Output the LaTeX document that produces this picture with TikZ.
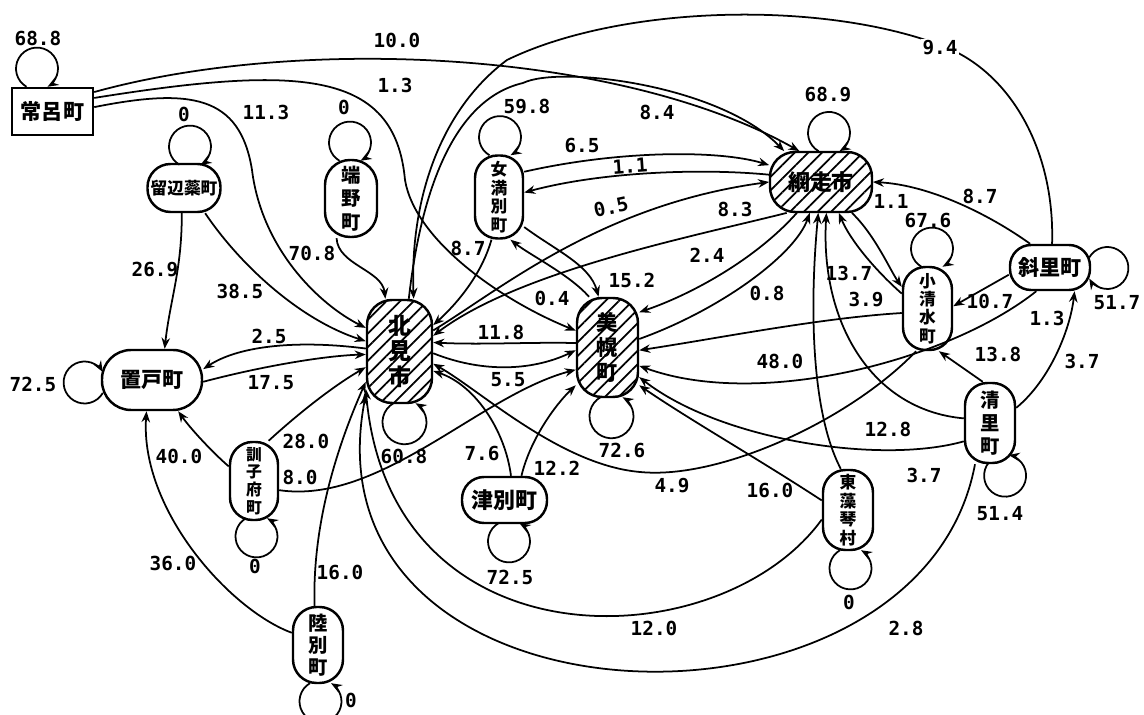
\documentclass[tikz,border=0pt]{standalone}
\usepackage{fontspec}
\newfontfamily\jp{Noto Sans CJK JP}
\newfontfamily\kazuf{DejaVu Sans Mono}
\usetikzlibrary{arrows.meta,patterns.meta,calc}
\tikzset{
  machi/.style={draw, line width=1.4pt, fill=white, inner sep=0pt, align=center},
  yoko/.style={machi, font=\jp\bfseries\fontsize{12}{12}\selectfont},
  tate/.style={machi, font=\jp\bfseries\fontsize{10}{11.5}\selectfont},
  shi/.style={pattern={Lines[angle=45,distance=5.5pt,line width=1pt]}},
  ya/.style={-{Stealth[length=2.2mm,width=1.7mm]}, line width=1pt},
  kazu/.style={font=\kazuf\bfseries\fontsize{11}{11}\selectfont, inner sep=1pt}
}
\begin{document}
\begin{tikzpicture}[x=0.02cm,y=-0.02cm]
\useasboundingbox[fill=white] (0,0) rectangle (1144,715);

% machi
\node[yoko, minimum width=1.62cm, minimum height=0.94cm] (tokoro) at (52.5,111.5) {常呂町};
\node[yoko, minimum width=1.46cm, minimum height=0.96cm, rounded corners=0.46cm,
      font=\jp\bfseries\fontsize{9.5}{10}\selectfont] (rubeshibe) at (184,188) {留辺蘂町};
\node[tate, minimum width=1.04cm, minimum height=1.54cm, rounded corners=0.5cm,
      font=\jp\bfseries\fontsize{11}{13.5}\selectfont] (tanno) at (351,198.5) {端\\野\\町};
\node[tate, minimum width=0.96cm, minimum height=1.66cm, rounded corners=0.45cm,
      font=\jp\bfseries\fontsize{9.5}{10.5}\selectfont] (memanbetsu) at (499,197) {女\\満\\別\\町};
\node[yoko, shi, minimum width=2.04cm, minimum height=1.2cm, rounded corners=0.5cm,
      font=\jp\bfseries\fontsize{12.5}{12.5}\selectfont] (abashiri) at (821,182) {網走市};
\node[yoko, minimum width=1.6cm, minimum height=0.9cm, rounded corners=0.42cm] (shari) at (1050,267.5) {斜里町};
\node[tate, minimum width=0.98cm, minimum height=1.66cm, rounded corners=0.45cm,
      font=\jp\bfseries\fontsize{9.5}{10.5}\selectfont] (koshimizu) at (927.5,308.5) {小\\清\\水\\町};
\node[tate, minimum width=1cm, minimum height=1.6cm, rounded corners=0.45cm,
      font=\jp\bfseries\fontsize{11}{13}\selectfont] (kiyosato) at (990,423) {清\\里\\町};
\node[tate, minimum width=1cm, minimum height=1.6cm, rounded corners=0.45cm,
      font=\jp\bfseries\fontsize{9.5}{10.5}\selectfont] (higashimokoto) at (848,510) {東\\藻\\琴\\村};
\node[tate, shi, minimum width=1.3cm, minimum height=2.06cm, rounded corners=0.5cm,
      font=\jp\bfseries\fontsize{13}{14.5}\selectfont] (kitami) at (399.5,351.5) {北\\見\\市};
\node[tate, shi, minimum width=1.22cm, minimum height=1.98cm, rounded corners=0.5cm,
      font=\jp\bfseries\fontsize{12}{14}\selectfont] (bihoro) at (607.5,347.5) {美\\幌\\町};
\node[yoko, minimum width=2cm, minimum height=1.2cm, rounded corners=0.58cm] (oketo) at (152,380) {置戸町};
\node[tate, minimum width=0.96cm, minimum height=1.56cm, rounded corners=0.45cm,
      font=\jp\bfseries\fontsize{9}{10}\selectfont] (kunneppu) at (254,481) {訓\\子\\府\\町};
\node[yoko, minimum width=1.7cm, minimum height=0.92cm, rounded corners=0.44cm,
      font=\jp\bfseries\fontsize{12.5}{12.5}\selectfont] (tsubetsu) at (504.5,500) {津別町};
\node[tate, minimum width=1cm, minimum height=1.52cm, rounded corners=0.47cm,
      font=\jp\bfseries\fontsize{11}{12.5}\selectfont] (rikubetsu) at (318,645) {陸\\別\\町};

% jibun e no wa
\draw[ya] ($(tokoro.north)+(-26,0)$) arc[start angle=240,end angle=-60,radius=0.42cm] node[kazu] at (38,38) {68.8};
\draw[ya] ($(rubeshibe.north)+(-4.5,2)$) arc[start angle=240,end angle=-60,radius=0.42cm] node[kazu] at (184,114) {0};
\draw[ya] ($(tanno.north)+(-11.5,2)$) arc[start angle=240,end angle=-60,radius=0.42cm] node[kazu] at (344,107) {0};
\draw[ya] ($(memanbetsu.north)+(-9.5,1)$) arc[start angle=240,end angle=-60,radius=0.42cm] node[kazu] at (527,107) {59.8};
\draw[ya] ($(abashiri.north)+(-2.5,0)$) arc[start angle=240,end angle=-60,radius=0.42cm] node[kazu] at (828,95) {68.9};
\draw[ya] ($(koshimizu.north)+(-6,1)$) arc[start angle=240,end angle=-60,radius=0.42cm] node[kazu] at (928,220) {67.6};
\draw[ya] ($(shari.east)+(-2,-10)$) arc[start angle=150,end angle=-150,radius=0.42cm] node[kazu] at (1117,303) {51.7};
\draw[ya] ($(oketo.west)+(2,13)$) arc[start angle=330,end angle=30,radius=0.42cm] node[kazu] at (33,384) {72.5};
\draw[ya] ($(kitami.south)+(-6,-1)$) arc[start angle=120,end angle=420,radius=0.44cm] node[kazu] at (404,456) {60.8};
\draw[ya] ($(bihoro.south)+(-7,-1)$) arc[start angle=120,end angle=420,radius=0.44cm] node[kazu] at (622,450) {72.6};
\draw[ya] ($(kunneppu.south)+(-8,-3)$) arc[start angle=120,end angle=420,radius=0.42cm] node[kazu] at (255,566) {0};
\draw[ya] ($(tsubetsu.south)+(-6,-1)$) arc[start angle=120,end angle=420,radius=0.42cm] node[kazu] at (510,577) {72.5};
\draw[ya] ($(higashimokoto.south)+(-8,-1)$) arc[start angle=120,end angle=420,radius=0.42cm] node[kazu] at (849,602) {0};
\draw[ya] ($(rikubetsu.south)+(-8,-1)$) arc[start angle=120,end angle=420,radius=0.42cm] node[kazu] at (351,700) {0};
\draw[ya] ($(kiyosato.south)+(-1,-2)$) arc[start angle=-220,end angle=80,radius=0.42cm] node[kazu] at (1000,514) {51.4};

% nagare
\draw[ya] (tokoro.25) .. controls (300,35) and (620,50) .. (abashiri.125) node[kazu] at (397,40) {10.0};
\draw[ya] (shari.85) .. controls (1055,150) and (1010,70) .. (940,45) .. controls (820,0) and (620,5) .. (507,60)
          .. controls (440,110) and (410,200) .. (kitami.75) node[kazu,fill=white] at (940,48) {9.4};
\draw[ya] (tokoro.18) .. controls (300,65) and (395,70) .. (405,180) .. controls (415,240) and (500,300) .. (bihoro.152)
          node[kazu] at (395,85) {1.3};
\draw[ya] (tokoro.6) .. controls (190,88) and (240,95) .. (252,170) .. controls (262,250) and (320,305) .. (kitami.145)
          node[kazu] at (266,112) {11.3};
\draw[ya] (kitami.80) .. controls (420,200) and (450,100) .. (523,83) .. controls (560,65) and (720,85) .. (abashiri.140)
          node[kazu] at (657,112) {8.4};
\draw[ya] (memanbetsu.45) .. controls (620,150) and (720,150) .. (abashiri.162) node[kazu] at (582,145) {6.5};
\draw[ya] (abashiri.172) .. controls (700,168) and (600,172) .. (memanbetsu.10) node[kazu,rotate=4] at (630,166) {1.1};
\draw[ya] (kitami.32) .. controls (500,290) and (600,205) .. (abashiri.180) node[kazu,rotate=12] at (611,207) {0.5};
\draw[ya] (abashiri.222) .. controls (700,235) and (520,270) .. (kitami.25) node[kazu] at (735,209) {8.3};
\draw[ya] (memanbetsu.260) .. controls (480,280) and (450,310) .. (kitami.38) node[kazu] at (468,248) {8.7};
\draw[ya] (memanbetsu.-50) .. controls (555,250) and (590,265) .. (bihoro.100) node[kazu] at (632,280) {15.2};
\draw[ya] (bihoro.110) .. controls (570,275) and (530,255) .. (memanbetsu.-75) node[kazu] at (552,298) {0.4};
\draw[ya] (abashiri.232) .. controls (755,260) and (690,295) .. (bihoro.48) node[kazu] at (707,255) {2.4};
\draw[ya] (bihoro.15) .. controls (720,310) and (795,255) .. (abashiri.250) node[kazu] at (767,293) {0.8};
\draw[ya] (higashimokoto.100) .. controls (810,410) and (810,300) .. (abashiri.265) node[kazu] at (780,361) {48.0};
\draw[ya] (kiyosato.170) .. controls (870,410) and (820,320) .. (abashiri.280) node[kazu] at (888,429) {12.8};
\draw[ya] (koshimizu.150) .. controls (875,270) and (850,240) .. (abashiri.300) node[kazu] at (849,273) {13.7};
\draw[ya] (abashiri.-45) .. controls (875,235) and (890,270) .. (koshimizu.140) node[kazu] at (891,201) {1.1};
\draw[ya] (shari.130) .. controls (990,215) and (930,185) .. (abashiri.0) node[kazu] at (980,196) {8.7};
\draw[ya] (shari.190) -- (koshimizu.5) node[kazu] at (990,301) {10.7};
\draw[ya] (shari.240) .. controls (950,360) and (760,410) .. (bihoro.-30) node[kazu] at (1047,318) {1.3};
\draw[ya] (koshimizu.-170) .. controls (820,318) and (720,338) .. (bihoro.-5) node[kazu] at (866,300) {3.9};
\draw[ya] (koshimizu.255) .. controls (850,420) and (720,480) .. (640,472) .. controls (560,465) and (480,390) .. (kitami.-20)
          node[kazu] at (672,486) {4.9};
\draw[ya] (kiyosato.215) .. controls (880,465) and (720,440) .. (bihoro.-43) node[kazu] at (924,475) {3.7};
\draw[ya] (higashimokoto.160) .. controls (760,460) and (690,420) .. (bihoro.-50) node[kazu] at (770,490) {16.0};
\draw[ya] (kiyosato.250) .. controls (920,760) and (300,740) .. (kitami.232) node[kazu] at (906,628) {2.8};
\draw[ya] (higashimokoto.200) .. controls (720,660) and (390,670) .. (kitami.228) node[kazu] at (654,628) {12.0};
\draw[ya] (tsubetsu.75) .. controls (505,430) and (475,385) .. (kitami.-30) node[kazu] at (482,453) {7.6};
\draw[ya] (tsubetsu.55) .. controls (530,440) and (555,405) .. (bihoro.230) node[kazu] at (557,468) {12.2};
\draw[ya] (kunneppu.-20) .. controls (380,505) and (480,395) .. (bihoro.215) node[kazu] at (300,477) {8.0};
\draw[ya] (kitami.-3) .. controls (480,372) and (530,372) .. (bihoro.185) node[kazu] at (508,380) {5.5};
\draw[ya] (bihoro.172) .. controls (530,342) and (480,345) .. (kitami.15) node[kazu] at (501,332) {11.8};
\draw[ya] (kitami.175) .. controls (300,340) and (240,345) .. (oketo.12) node[kazu] at (269,336) {2.5};
\draw[ya] (oketo.-2) .. controls (255,368) and (320,356) .. (kitami.185) node[kazu] at (271,383) {17.5};
\draw[ya] (rubeshibe.265) .. controls (182,270) and (170,300) .. (oketo.68) node[kazu] at (155,270) {26.9};
\draw[ya] (rubeshibe.-50) .. controls (240,265) and (300,320) .. (kitami.163) node[kazu] at (240,291) {38.5};
\draw[ya] (tanno.250) .. controls (338,265) and (382,270) .. (kitami.105) node[kazu] at (312,253) {70.8};
\draw[ya] (kunneppu.150) .. controls (212,452) and (190,428) .. (oketo.-50) node[kazu] at (179,456) {40.0};
\draw[ya] (kunneppu.70) .. controls (300,412) and (335,385) .. (kitami.205) node[kazu] at (306,441) {28.0};
\draw[ya] (rikubetsu.155) .. controls (230,610) and (140,510) .. (oketo.-100) node[kazu] at (173,563) {36.0};
\draw[ya] (rikubetsu.95) .. controls (312,520) and (340,440) .. (kitami.222) node[kazu] at (340,572) {16.0};
\draw[ya] (kiyosato.100) -- (koshimizu.-75) node[kazu] at (998,354) {13.8};
\draw[ya] (kiyosato.30) .. controls (1050,380) and (1070,330) .. (shari.-44) node[kazu] at (1082,361) {3.7};
\end{tikzpicture}
\end{document}
